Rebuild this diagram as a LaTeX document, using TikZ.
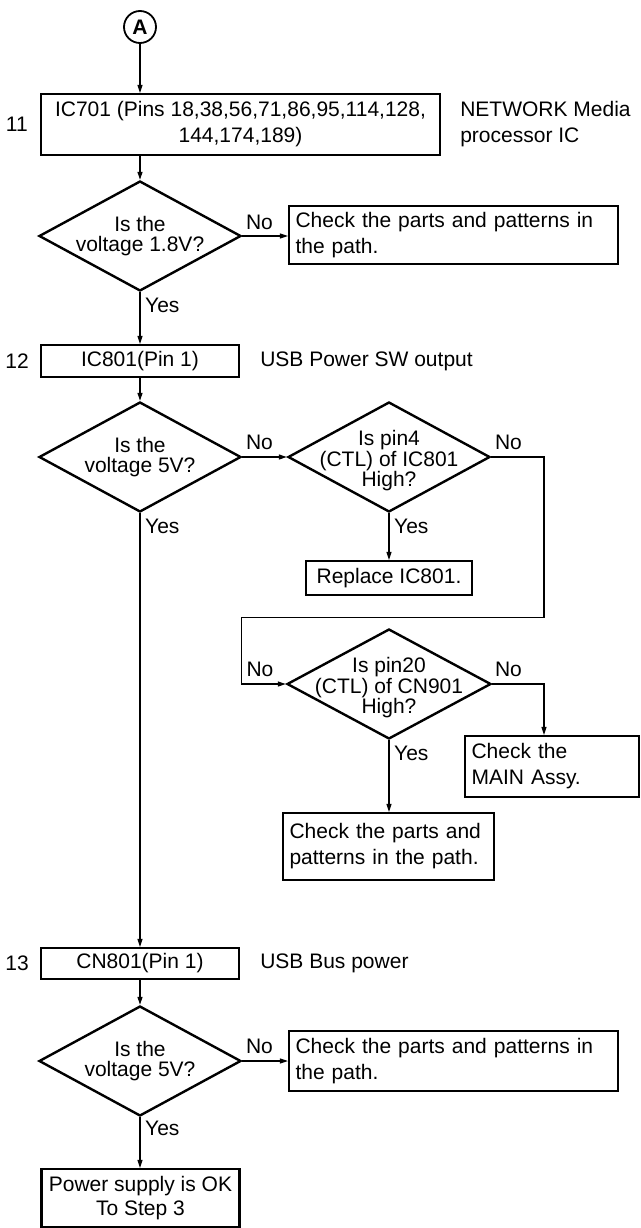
\documentclass[tikz,border=0pt]{standalone}
\usepackage{fontspec}
\setmainfont{Liberation Sans}
\usetikzlibrary{arrows.meta,positioning,shapes.geometric}

\begin{document}
\begin{tikzpicture}[
    x=1pt, y=-1pt,
    font=\fontsize{21}{26}\selectfont,
    box/.style={draw, line width=2.2pt, inner xsep=6.5pt, inner ysep=0pt, align=center},
    lbox/.style={box, align=left},
    ask/.style={draw, diamond, line width=2.4pt, minimum width=202pt,
                minimum height=110pt, inner sep=0pt},
    asktext/.style={align=center, inner sep=0pt, font=\fontsize{21}{20.5}\selectfont},
    conn/.style={draw, circle, line width=1.8pt, minimum size=32pt, inner sep=0pt,
                 font=\fontsize{21}{21}\selectfont\bfseries},
    note/.style={align=left, inner sep=0pt},
    num/.style={inner sep=0pt},
    yn/.style={inner sep=0pt},
    arr/.style={-{Triangle[length=8pt,width=5pt]}, line width=1.1pt}
]
    \useasboundingbox (0,0) rectangle (640,1228);

    \node[conn] (A) at (140,27) {A};

    \node[box, minimum width=399pt, minimum height=61pt] (box11) at (240.5,124.5)
        {IC701 (Pins 18,38,56,71,86,95,114,128,\\144,174,189)};
    \node[num, left=12pt of box11] (n11) {11};
    \node[note, right=19pt of box11] (t11) {NETWORK Media\\processor IC};

    \node[ask] (d1) at (140,236) {};
    \node[asktext] (d1t) at (d1) {Is the\\voltage 1.8V?};
    \node[lbox, text width=316pt, minimum height=58pt] (chk1) at (453.5,235)
        {Check the parts and patterns in\\the path.};

    \node[box, minimum width=198pt, minimum height=32pt] (box12) at (140,361) {IC801(Pin 1)};
    \node[num, left=11pt of box12] (n12) {12};
    \node[note, right=20pt of box12] (t12) {USB Power SW output};

    \node[ask] (d2) at (140,457) {};
    \node[asktext] (d2t) at (d2) {Is the\\voltage 5V?};
    \node[ask] (d3) at (389,457) {};
    \node[asktext] (d3t) at (389,461) {Is pin4\\(CTL) of IC801\\High?};
    \node[box, minimum width=166pt, minimum height=34pt] (rep) at (389,578) {Replace IC801.};

    \node[ask, minimum width=204pt] (d4) at (389,684) {};
    \node[asktext] (d4t) at (389,688) {Is pin20\\(CTL) of CN901\\High?};
    \node[lbox, text width=161pt, minimum height=61pt] (main) at (552,766.5)
        {Check the\\MAIN Assy.};
    \node[lbox, text width=198pt, minimum height=67pt] (chk2) at (388.5,846.5)
        {Check the parts and\\patterns in the path.};

    \node[box, minimum width=198pt, minimum height=31pt] (box13) at (140,963.5) {CN801(Pin 1)};
    \node[num, left=11pt of box13] (n13) {13};
    \node[note, right=20pt of box13] (t13) {USB Bus power};

    \node[ask] (d5) at (140,1061) {};
    \node[asktext] (d5t) at (d5) {Is the\\voltage 5V?};
    \node[lbox, text width=316pt, minimum height=60pt] (chk3) at (453.5,1061)
        {Check the parts and patterns in\\the path.};
    \node[box, minimum width=198pt, minimum height=58pt, font=\fontsize{21}{24}\selectfont] (fin) at (140.5,1198)
        {Power supply is OK\\To Step 3};

    \node[yn] (no1) at (259.5,222) {No};
    \node[yn, anchor=west] (yes1) at (145,305) {Yes};
    \node[yn] (no2) at (259.5,442) {No};
    \node[yn, anchor=west] (yes2) at (145,526) {Yes};
    \node[yn] (no3) at (508.5,442) {No};
    \node[yn, anchor=west] (yes3) at (394,526) {Yes};
    \node[yn] (no4) at (260,669) {No};
    \node[yn] (no5) at (508.5,669) {No};
    \node[yn, anchor=west] (yes4) at (394,753) {Yes};
    \node[yn] (no6) at (259.5,1046) {No};
    \node[yn, anchor=west] (yes5) at (145,1128) {Yes};

    \coordinate (r1) at (544,617.5);
    \coordinate (l1) at (241.5,617.5);

    \draw[arr] (A.south) -- (A.south |- box11.north);
    \draw[arr] (d1.north |- box11.south) -- (d1.north);
    \draw[arr] (d1.east) -- (d1.east -| chk1.west);
    \draw[arr] (d1.south) -- (d1.south |- box12.north);
    \draw[arr] (box12.south) -- (d2.north);
    \draw[arr] (d2.east) -- (d3.west);
    \draw[arr] (d3.south) -- (rep.north);
    \draw[arr] (d3.east) -| (r1) -- (l1) |- (d4.west);
    \draw[arr] (d4.east) -| (r1 |- main.north);
    \draw[arr] (d4.south) -- (d4.south |- chk2.north);
    \draw[arr] (d2.south) -- (d2.south |- box13.north);
    \draw[arr] (box13.south) -- (d5.north);
    \draw[arr] (d5.east) -- (d5.east -| chk3.west);
    \draw[arr] (d5.south) -- (d5.south |- fin.north);
\end{tikzpicture}
\end{document}
